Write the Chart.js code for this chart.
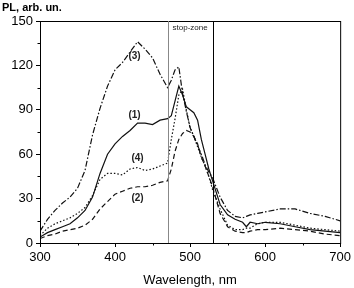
<!DOCTYPE html>
<html>
<head>
<meta charset="utf-8">
<script src="https://cdn.jsdelivr.net/npm/chart.js@4.4.0/dist/chart.umd.min.js"></script>
<style>
  html, body { margin: 0; padding: 0; background: #fff; }
  #wrap { position: relative; width: 354px; height: 288px; }
</style>
</head>
<body>
<div id="wrap"><canvas id="pl"></canvas></div>
<script>
// wavelength grid (nm)
const wavelengths = [300, 310, 320, 330, 340, 350, 360, 370, 380, 390, 400, 410, 420, 430, 440, 450, 460, 470,
  475, 480, 485, 490, 495, 500, 505, 510, 515, 520, 525, 530, 540, 550, 560, 570, 575, 580, 590, 600,
  620, 640, 660, 680, 700];

// PL intensity, arb. un.
const curve1 = [4, 7, 9, 11, 13, 17, 22, 31, 47, 60, 67, 72, 76, 81, 81, 80, 83, 84,
  86, 96, 106, 100, 92, 90, 88, 83, 70, 60, 50, 42, 26, 19, 16, 14, 11, 14, 13, 14,
  13, 11, 9, 8, 7];
const curve2 = [3, 5, 6, 8, 9, 10, 12, 16, 23, 28, 33, 35, 37, 38, 38, 39, 41, 42,
  50, 62, 70, 74, 76, 75, 72, 67, 58, 52, 45, 38, 20, 11, 8, 7, 7, 8, 9, 9,
  10, 9, 8, 6, 5];
const curve3 = [8, 16, 22, 27, 31, 37, 49, 73, 91, 106, 117, 122, 129, 136, 131, 125, 114, 105,
  110, 117, 119, 101, 89, 78, 72, 66, 60, 53, 48, 44, 31, 22, 18, 17, 18, 19, 20, 21,
  23, 23, 20, 18, 15];
const curve4 = [5, 10, 13, 15, 17, 20, 24, 32, 43, 47, 47, 46, 50, 51, 49, 50, 52, 54,
  70, 84, 100, 104, 90, 78, 72, 65, 58, 52, 45, 36, 23, 12, 9, 9, 10, 10, 13, 14,
  14, 12, 10, 9, 8];

const stopZone = [470, 530];
const xTicks = [300, 400, 500, 600, 700];
const xMinor = [350, 450, 550, 650];
const yTicks = [0, 30, 60, 90, 120, 150];
const yMinor = [15, 45, 75, 105, 135];

const curveLabels = [
  { text: "(1)", x: 426, y: 86 },
  { text: "(2)", x: 430, y: 30 },
  { text: "(3)", x: 426, y: 126 },
  { text: "(4)", x: 430, y: 57 }
];

const pts = (ys) => wavelengths.map((w, i) => ({ x: w, y: ys[i] }));

const mkSet = (label, ys, dash) => ({
  label,
  data: pts(ys),
  borderColor: "#111",
  borderWidth: 1.2,
  borderDash: dash,
  pointRadius: 0,
  tension: 0,
  fill: false
});

const font = "'Liberation Sans', Arial, sans-serif";

// frame, minor ticks, stop-zone lines and text labels
const extras = {
  id: "extras",
  afterDatasetsDraw(chart) {
    const { ctx, chartArea: a, scales: { x, y } } = chart;
    ctx.save();
    ctx.lineWidth = 1;
    ctx.strokeStyle = "#000";
    ctx.strokeRect(a.left + 0.5, a.top + 0.5, a.right - a.left, a.bottom - a.top);

    // minor ticks
    ctx.beginPath();
    xMinor.forEach((v) => {
      const px = Math.round(x.getPixelForValue(v)) + 0.5;
      ctx.moveTo(px, a.bottom);
      ctx.lineTo(px, a.bottom + 2.5);
    });
    yMinor.forEach((v) => {
      const py = Math.round(y.getPixelForValue(v)) + 0.5;
      ctx.moveTo(a.left, py);
      ctx.lineTo(a.left - 2.5, py);
    });
    ctx.stroke();

    stopZone.forEach((w, i) => {
      const px = Math.round(x.getPixelForValue(w)) + 0.5;
      ctx.strokeStyle = i === 0 ? "#888" : "#000";
      ctx.beginPath();
      ctx.moveTo(px, a.top);
      ctx.lineTo(px, a.bottom);
      ctx.stroke();
    });

    ctx.fillStyle = "#222";
    ctx.font = "8px " + font;
    ctx.textAlign = "center";
    ctx.textBaseline = "middle";
    ctx.fillText("stop-zone", (x.getPixelForValue(stopZone[0]) + x.getPixelForValue(stopZone[1])) / 2, a.top + 7);

    ctx.font = "bold 10px " + font;
    curveLabels.forEach((l) => {
      ctx.fillText(l.text, x.getPixelForValue(l.x), y.getPixelForValue(l.y));
    });

    ctx.font = "bold 11px " + font;
    ctx.textAlign = "left";
    ctx.fillStyle = "#000";
    ctx.fillText("PL, arb. un.", 2, 8);
    ctx.restore();
  }
};

new Chart(document.getElementById("pl"), {
  type: "line",
  data: {
    datasets: [
      mkSet("(1)", curve1, []),
      mkSet("(2)", curve2, [5, 3]),
      mkSet("(3)", curve3, [6, 2, 1.5, 2]),
      mkSet("(4)", curve4, [1.5, 2])
    ]
  },
  options: {
    responsive: true,
    maintainAspectRatio: false,
    animation: false,
    layout: { padding: { top: 21, right: 13, left: 0, bottom: 0 } },
    plugins: { legend: { display: false }, tooltip: { enabled: false } },
    scales: {
      x: {
        type: "linear",
        min: 300,
        max: 700,
        afterBuildTicks: (s) => { s.ticks = xTicks.map((v) => ({ value: v })); },
        afterFit: (s) => { s.height = 45; },
        grid: { drawOnChartArea: false, tickLength: 4, color: "#000" },
        border: { color: "#000" },
        ticks: {
          color: "#000",
          font: { size: 13, family: font },
          padding: 3,
          maxRotation: 0,
          autoSkip: false
        },
        title: {
          display: true,
          text: "Wavelength, nm",
          color: "#000",
          font: { size: 13, family: font },
          padding: { top: 2, bottom: 0 }
        }
      },
      y: {
        min: 0,
        max: 150,
        afterBuildTicks: (s) => { s.ticks = yTicks.map((v) => ({ value: v })); },
        afterFit: (s) => { s.width = 40; },
        grid: { drawOnChartArea: false, tickLength: 4, color: "#000" },
        border: { color: "#000" },
        ticks: {
          color: "#000",
          font: { size: 13, family: font },
          padding: 3,
          autoSkip: false
        }
      }
    }
  },
  plugins: [extras]
});
</script>
</body>
</html>
